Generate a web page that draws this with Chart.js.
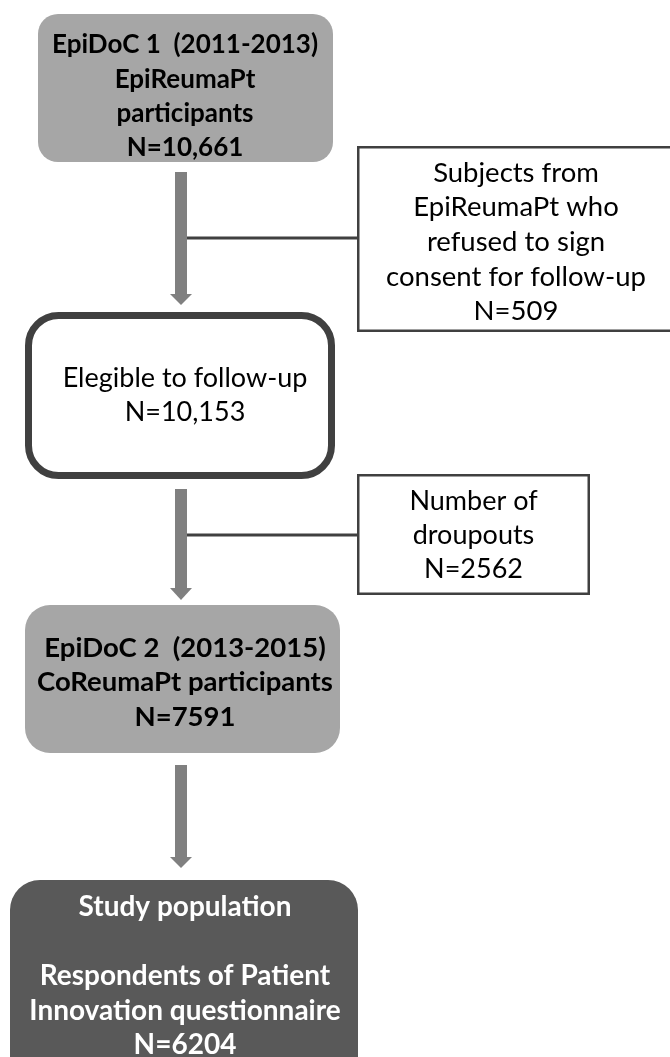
<!DOCTYPE html>
<html>
<head>
<meta charset="utf-8">
<script src="https://cdn.jsdelivr.net/npm/chart.js@4.4.1/dist/chart.umd.min.js"></script>
<style>
  html, body { margin: 0; padding: 0; background: #ffffff; }
  #wrap { width: 670px; height: 1057px; position: relative; }
</style>
</head>
<body>
<div id="wrap"><canvas id="c"></canvas></div>
<script>
// ---- content (text + counts) ----
const stageTitles = [
  ["EpiDoC 1  (2011-2013)", "EpiReumaPt", "participants"],
  ["Subjects from", "EpiReumaPt who", "refused to sign", "consent for follow-up"],
  ["Elegible to follow-up"],
  ["Number of", "droupouts"],
  ["EpiDoC 2  (2013-2015)", "CoReumaPt participants"],
  ["Study population", "", "Respondents of Patient", "Innovation questionnaire"]
];
const countLabels = ["N=10,661", "N=509", "N=10,153", "N=2562", "N=7591", "N=6204"];

// ---- layout in scale units (x: 0..670, y: 0..1057 top-down) ----
const boxX0 = [38, 357, 25, 357, 25, 10];
const boxX1 = [333, 680, 335, 590, 340, 358];
const boxY0 = [14, 146, 312, 474, 605, 880];
const boxY1 = [162, 332, 479, 595, 753, 1090];
const textX = [185, 516, 185, 473.5, 185, 185];
const firstLineY = [45, 173, 378, 501, 648, 907];
const lineStep = [34.3, 34.6, 34, 34, 34.5, 34.5];
const fontPx = [26, 27.5, 27, 27, 27.5, 28];

const styles = [
  {fill:'#a6a6a6', stroke:null, lw:0, r:20, bold:true, color:'#000000'},
  {fill:'#ffffff', stroke:'#404040', lw:2.5, r:0, bold:false, color:'#000000'},
  {fill:'#ffffff', stroke:'#404040', lw:7, r:30, bold:false, color:'#000000'},
  {fill:'#ffffff', stroke:'#404040', lw:2.5, r:0, bold:false, color:'#000000'},
  {fill:'#a6a6a6', stroke:null, lw:0, r:25, bold:true, color:'#000000'},
  {fill:'#595959', stroke:null, lw:0, r:30, bold:true, color:'#ffffff'}
];

// arrows (vertical) and side connectors
const arrowX = 181;
const arrowTop = [172, 489, 765];
const arrowHeadBase = [294, 588, 857];
const arrowTip = [305, 600, 868];
const connectorY = [238, 535];
const connectorX0 = 187, connectorX1 = 357;

const datasets = [];
for (let i = 0; i < arrowTop.length; i++) {
  datasets.push({
    type: 'line',
    data: [{x: arrowX, y: arrowTop[i]}, {x: arrowX, y: arrowHeadBase[i]}],
    borderColor: '#808080', borderWidth: 12, borderCapStyle: 'butt',
    pointRadius: 0, fill: false, tension: 0
  });
}
for (let i = 0; i < connectorY.length; i++) {
  datasets.push({
    type: 'line',
    data: [{x: connectorX0, y: connectorY[i]}, {x: connectorX1, y: connectorY[i]}],
    borderColor: '#404040', borderWidth: 3, borderCapStyle: 'butt',
    pointRadius: 0, fill: false, tension: 0
  });
}

function roundRect(ctx, x, y, w, h, r) {
  ctx.beginPath();
  if (r > 0) {
    ctx.moveTo(x + r, y);
    ctx.arcTo(x + w, y, x + w, y + h, r);
    ctx.arcTo(x + w, y + h, x, y + h, r);
    ctx.arcTo(x, y + h, x, y, r);
    ctx.arcTo(x, y, x + w, y, r);
    ctx.closePath();
  } else {
    ctx.rect(x, y, w, h);
  }
}

const flowPlugin = {
  id: 'flow',
  beforeDatasetsDraw(chart) {
    const ctx = chart.ctx, xs = chart.scales.x, ys = chart.scales.y;
    ctx.save();
    for (let i = 0; i < boxX0.length; i++) {
      const s = styles[i];
      const x0 = xs.getPixelForValue(boxX0[i]), x1 = xs.getPixelForValue(boxX1[i]);
      const y0 = ys.getPixelForValue(boxY0[i]), y1 = ys.getPixelForValue(boxY1[i]);
      const inset = s.lw / 2;
      roundRect(ctx, x0 + inset, y0 + inset, x1 - x0 - s.lw, y1 - y0 - s.lw, s.r);
      ctx.fillStyle = s.fill;
      ctx.fill();
      if (s.stroke) {
        ctx.lineWidth = s.lw;
        ctx.strokeStyle = s.stroke;
        ctx.stroke();
      }
    }
    ctx.restore();
  },
  afterDatasetsDraw(chart) {
    const ctx = chart.ctx, xs = chart.scales.x, ys = chart.scales.y;
    ctx.save();
    // arrow heads
    ctx.fillStyle = '#808080';
    for (let i = 0; i < arrowTop.length; i++) {
      const cx = xs.getPixelForValue(arrowX);
      const yb = ys.getPixelForValue(arrowHeadBase[i]);
      const yt = ys.getPixelForValue(arrowTip[i]);
      const hw = xs.getPixelForValue(arrowX + 11) - cx;
      ctx.beginPath();
      ctx.moveTo(cx - hw, yb);
      ctx.lineTo(cx + hw, yb);
      ctx.lineTo(cx, yt);
      ctx.closePath();
      ctx.fill();
    }
    // texts
    ctx.textAlign = 'center';
    ctx.textBaseline = 'middle';
    for (let i = 0; i < stageTitles.length; i++) {
      const s = styles[i];
      ctx.font = (s.bold ? 'bold ' : '') + fontPx[i] + 'px Lato, "DejaVu Sans", sans-serif';
      ctx.fillStyle = s.color;
      const lines = stageTitles[i].concat([countLabels[i]]);
      const px = xs.getPixelForValue(textX[i]);
      lines.forEach((t, k) => {
        if (!t) return;
        ctx.fillText(t, px, ys.getPixelForValue(firstLineY[i] + k * lineStep[i]));
      });
    }
    ctx.restore();
  }
};

new Chart(document.getElementById('c'), {
  type: 'line',
  data: { datasets },
  options: {
    responsive: true,
    maintainAspectRatio: false,
    animation: false,
    events: [],
    layout: { padding: 0 },
    plugins: { legend: { display: false }, tooltip: { enabled: false } },
    scales: {
      x: { type: 'linear', min: 0, max: 670, display: false },
      y: { type: 'linear', min: 0, max: 1057, reverse: true, display: false }
    }
  },
  plugins: [flowPlugin]
});
</script>
</body>
</html>
